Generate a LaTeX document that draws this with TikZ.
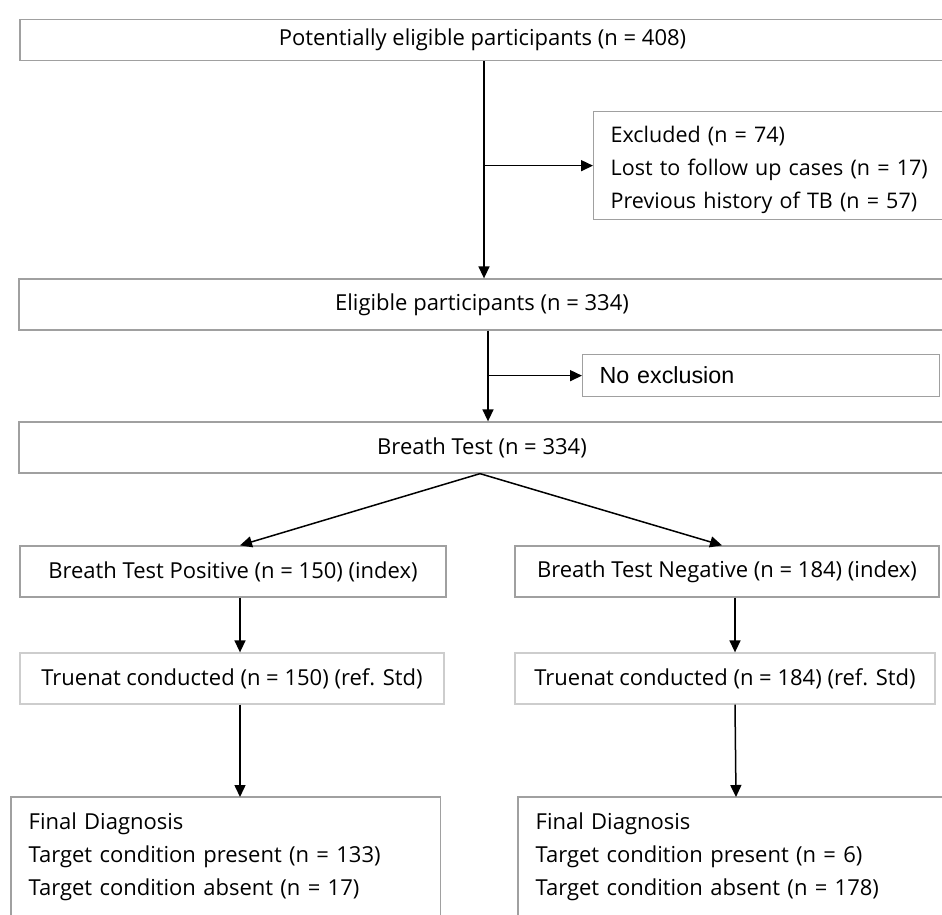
\documentclass[tikz,border=0pt]{standalone}
\usepackage{fontspec}
\setmainfont{Open Sans}
\newfontfamily\arialf{Liberation Sans}
\usetikzlibrary{arrows.meta}
\definecolor{boxgray}{RGB}{160,160,160}
\definecolor{lightgray2}{RGB}{205,205,205}
\begin{document}
\begin{tikzpicture}[x=1pt,y=-1pt,
  box/.style={draw=boxgray, line width=1.3pt, rectangle, inner sep=0pt, font=\fontsize{22}{26}\selectfont},
  lbox/.style={box, draw=lightgray2},
  lbox2/.style={box, draw=none, anchor=north west, inner xsep=17pt, align=left, font=\fontsize{22}{33}\selectfont},
  conn/.style={line width=1.5pt, -{Triangle[length=12pt,width=11pt]}},
  side/.style={draw=boxgray, line width=1.3pt}]
\useasboundingbox (0,0) rectangle (942,915);
\clip (0,0) rectangle (942,915);
\node[box, minimum width=925pt, minimum height=41pt] (top) at (482.5,40) {Potentially eligible participants (n = 408)};
\node[box, anchor=north west, minimum width=357pt, minimum height=108pt, text width=323pt, inner xsep=17pt, align=left, font=\fontsize{21.5}{33}\selectfont] (excl) at (593,111) {\rule{0pt}{25pt}Excluded (n = 74)\\Lost to follow up cases (n = 17)\\Previous history of TB (n = 57)};
\node[box, minimum width=926pt, minimum height=51pt] (elig) at (482,304.5) {Eligible participants (n = 334)};
\node[box, anchor=north west, minimum width=357pt, minimum height=42pt, text width=323pt, inner xsep=17pt, align=left, font=\arialf\fontsize{23.3}{26}\selectfont] (nox) at (582,354) {No exclusion};
\node[box, minimum width=926pt, minimum height=51pt] (breath) at (482,447.5) {Breath Test (n = 334)};
\node[box, minimum width=426pt, minimum height=51pt] (pos) at (233,571.5) {Breath Test Positive (n = 150) (index)};
\node[box, minimum width=424pt, minimum height=51pt] (neg) at (727,571.5) {Breath Test Negative (n = 184) (index)};
\node[lbox, minimum width=424pt, minimum height=51pt] (tpos) at (232,678.5) {Truenat conducted (n = 150) (ref. Std)};
\node[lbox, minimum width=420pt, minimum height=51pt] (tneg) at (725,678.5) {Truenat conducted (n = 184) (ref. Std)};
\node[lbox2, minimum width=428pt, minimum height=118pt, text width=394pt] (fin1) at (11,797) {Final Diagnosis\\Target condition present (n = 133)\\Target condition absent (n = 17)};
\node[lbox2, minimum width=430pt, minimum height=118pt, text width=396pt] (fin2) at (518,797) {Final Diagnosis\\Target condition present (n = 6)\\Target condition absent (n = 178)};
\draw[side] (fin1.south west) -- (fin1.north west) -- (fin1.north east) -- (fin1.south east);
\draw[side] (fin2.south west) -- (fin2.north west) -- (fin2.north east) -- (fin2.south east);
% connectors
\draw[conn] ([xshift=1.5pt]top.south) -- ([xshift=2pt]elig.north);
\draw[conn] ([xshift=1.5pt]top.south |- excl.west) -- (excl.west);
\draw[conn] ([xshift=6pt]elig.south) -- ([xshift=6pt]breath.north);
\draw[conn] ([xshift=6pt]elig.south |- nox.west) -- (nox.west);
\draw[conn] ([xshift=-2pt]breath.south) -- ([xshift=7pt]pos.north);
\draw[conn] ([xshift=-2pt]breath.south) -- ([xshift=-5pt]neg.north);
\draw[conn] ([xshift=7pt]pos.south) -- ([xshift=8pt]tpos.north);
\draw[conn] ([xshift=8pt]neg.south) -- ([xshift=10pt]tneg.north);
\draw[conn] ([xshift=8pt]tpos.south) -- ([xshift=8pt]tpos.south |- fin1.north);
\draw[conn] ([xshift=10pt]tneg.south) -- ([xshift=11pt]tneg.south |- fin2.north);
\end{tikzpicture}
\end{document}
